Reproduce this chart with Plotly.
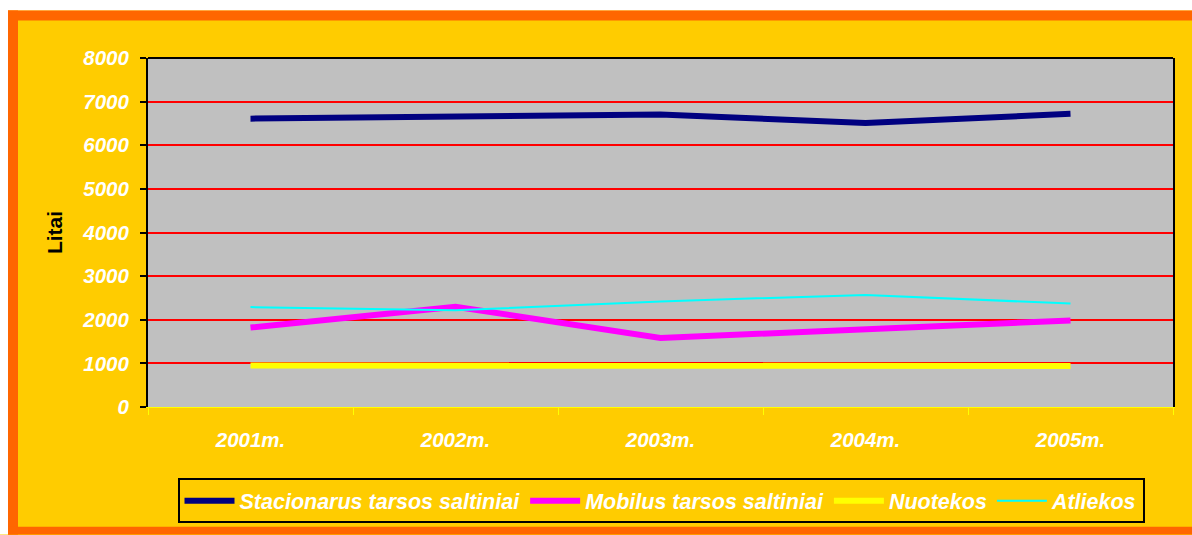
import plotly.graph_objects as go

years = ["2001m.", "2002m.", "2003m.", "2004m.", "2005m."]
stacionarus = [6610, 6655, 6705, 6510, 6720]
mobilus = [1820, 2300, 1580, 1790, 1985]
nuotekos = [950, 950, 955, 945, 940]
atliekos = [2290, 2215, 2420, 2570, 2370]

W, H = 1192, 535
L, R, T, B = 148, 19, 58, 124
PW, PH = W - L - R, H - T - B

def px2x(px):
    return (px - L) / PW

def py2y(py):
    return (H - B - py) / PH

FONT = "Liberation Sans, Arial, sans-serif"

fig = go.Figure()
series = [
    ("Stacionarus tarsos saltiniai", stacionarus, "#000080", 6),
    ("Mobilus tarsos saltiniai", mobilus, "#FF00FF", 6),
    ("Nuotekos", nuotekos, "#FFFF00", 6),
    ("Atliekos", atliekos, "#00FFFF", 2),
]
for name, vals, color, w in series:
    fig.add_trace(go.Scatter(x=years, y=vals, name=name, mode="lines",
                             line=dict(color=color, width=w)))

def rect(x0, x1, y0, y1, color):
    return dict(type="rect", xref="paper", yref="paper", x0=px2x(x0), x1=px2x(x1),
                y0=py2y(y1), y1=py2y(y0), fillcolor=color, line=dict(width=0), layer="below")

shapes = [
    rect(-5, W + 5, -5, 10, "white"),
    rect(-5, 8, -5, H + 5, "white"),
    rect(8, W + 5, 10, 20, "#FF6600"),
    rect(8, 18, 10, H + 5, "#FF6600"),
    rect(8, W + 5, 532, H + 5, "#FF6600"),
    dict(type="line", xref="paper", yref="paper", x0=0, x1=1, y0=1, y1=1,
         line=dict(color="black", width=2), layer="above"),
]

fig.update_layout(
    width=W, height=H,
    margin=dict(l=L, r=R, t=T, b=B, pad=0),
    paper_bgcolor="#FFCC00",
    plot_bgcolor="#C0C0C0",
    shapes=shapes,
    font=dict(family=FONT, size=20, color="white", weight="bold", style="italic"),
    xaxis=dict(
        type="category", range=[-0.5, 4.5], showgrid=False, zeroline=False,
        showline=True, linecolor="#FFFF00", linewidth=1,
        ticks="outside", tickson="boundaries", ticklen=7, tickcolor="#FFFF00", tickwidth=1,
        tickfont=dict(family=FONT, size=20.5, color="white", weight="bold", style="italic"),
        ticklabelstandoff=14,
    ),
    yaxis=dict(
        range=[0, 8000], dtick=1000, showgrid=True, gridcolor="#FF0000", gridwidth=1.5,
        zeroline=False, showline=True, linecolor="black", linewidth=2, mirror=True,
        ticks="outside", ticklen=6, tickcolor="black", tickwidth=2,
        tickfont=dict(family=FONT, size=20.5, color="white", weight="bold", style="italic"),
        ticklabelstandoff=7,
        title=dict(text="Litai", standoff=14,
                   font=dict(family=FONT, size=21, color="black", weight="bold", style="normal")),
    ),
    legend=dict(
        orientation="h", x=px2x(661), xanchor="center", y=py2y(483), yanchor="top",
        bgcolor="#FFCC00", bordercolor="black", borderwidth=2,
        font=dict(family=FONT, size=21.5, color="white", weight="bold", style="italic"),
        itemwidth=50,
    ),
)

fig.write_html("out.html")
